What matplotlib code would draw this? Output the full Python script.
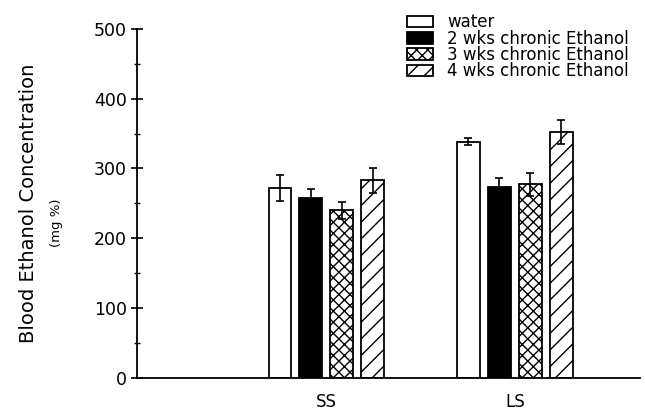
import numpy as np
import matplotlib.pyplot as plt
from matplotlib.ticker import MultipleLocator

plt.rcParams.update({"font.family": "DejaVu Sans", "hatch.linewidth": 1.0})

# Data
groups = ["SS", "LS"]
series = ["water", "2 wks chronic Ethanol", "3 wks chronic Ethanol",
          "4 wks chronic Ethanol"]
means = {
    "water": [272, 338],
    "2 wks chronic Ethanol": [258, 273],
    "3 wks chronic Ethanol": [240, 277],
    "4 wks chronic Ethanol": [283, 352],
}
errors = {
    "water": [19, 5],
    "2 wks chronic Ethanol": [13, 13],
    "3 wks chronic Ethanol": [12, 17],
    "4 wks chronic Ethanol": [18, 17],
}

styles = {
    "water": dict(color="white", hatch=None),
    "2 wks chronic Ethanol": dict(color="black", hatch=None),
    "3 wks chronic Ethanol": dict(color="white", hatch="xxx"),
    "4 wks chronic Ethanol": dict(color="white", hatch="//"),
}

fig = plt.figure(figsize=(6.45, 4.12), dpi=100)
ax = fig.add_axes([0.212, 0.083, 0.78, 0.847])

x = np.arange(len(groups))
step = 0.164
width = 0.12
for i, name in enumerate(series):
    pos = x + (i - 1.5) * step
    ax.bar(pos, means[name], width, color=styles[name]["color"],
           hatch=styles[name]["hatch"], edgecolor="black", linewidth=1.3,
           label=name)
    ax.errorbar(pos, means[name], yerr=errors[name], fmt="none",
                ecolor="black", elinewidth=1.2, capsize=3, capthick=1.2)

ax.set_xlim(-1.005, 1.663)
ax.set_ylim(0, 500)
ax.set_xticks(x)
ax.set_xticklabels(groups, fontsize=12)
ax.tick_params(axis="x", length=0, pad=11)
ax.yaxis.set_major_locator(MultipleLocator(100))
ax.yaxis.set_minor_locator(MultipleLocator(50))
ax.tick_params(axis="y", which="major", direction="inout", length=8,
               width=1.2, labelsize=12.5, pad=3)
ax.tick_params(axis="y", which="minor", direction="inout", length=5,
               width=1.0)
for side in ["top", "right"]:
    ax.spines[side].set_visible(False)
for side in ["left", "bottom"]:
    ax.spines[side].set_linewidth(1.3)

ax.set_ylabel("Blood Ethanol Concentration", fontsize=14, labelpad=40)
fig.text(0.088, 0.46, "(mg %)", rotation=90, fontsize=9.5,
         ha="center", va="center")

leg = fig.legend(*ax.get_legend_handles_labels(), loc="upper left",
                 bbox_to_anchor=(0.631, 0.968), frameon=False,
                 fontsize=12, handlelength=1.55, handleheight=0.7,
                 labelspacing=-0.1, handletextpad=0.85, borderaxespad=0,
                 borderpad=0)

plt.savefig("out.png", dpi=100)
plt.close()
